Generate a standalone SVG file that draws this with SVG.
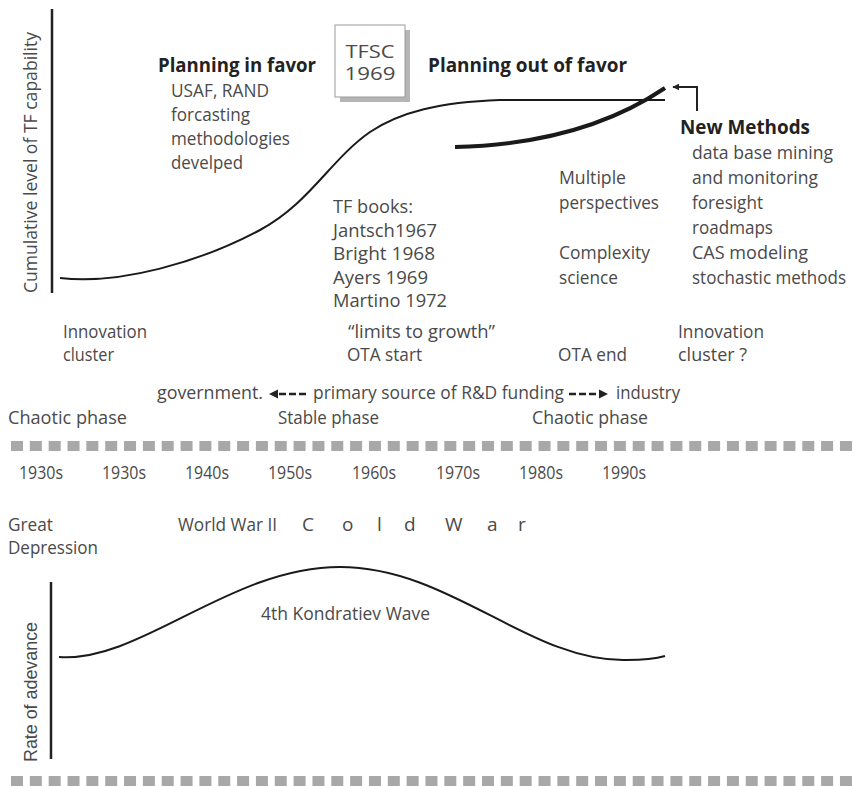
<svg xmlns="http://www.w3.org/2000/svg" width="855" height="786" viewBox="0 0 855 786">
<style>
.t{font-family:"Open Sans","Liberation Sans",sans-serif;font-size:19px;fill:#4a4a4a}
.b{font-family:"Open Sans","Liberation Sans",sans-serif;font-size:19.5px;font-weight:700;fill:#222}
.ax{stroke:#222;stroke-width:2.5;fill:none}
.crv{stroke:#1a1a1a;stroke-width:2;fill:none}
.bar{stroke:#a8a8a8;stroke-width:10;stroke-dasharray:12 6.84;fill:none}
.dash{stroke:#222;stroke-width:2.6;stroke-dasharray:7 3;fill:none}
</style>
<defs>
<marker id="ah" viewBox="0 0 10 10" refX="9" refY="5" markerWidth="7" markerHeight="7" markerUnits="userSpaceOnUse" orient="auto">
<path d="M0,0 L10,5 L0,10 z" fill="#222"/>
</marker>
</defs>
<rect width="855" height="786" fill="#fff"/>

<!-- bars -->
<line class="bar" x1="11" y1="446" x2="855" y2="446"/>
<line class="bar" x1="11" y1="781" x2="855" y2="781"/>

<!-- top chart axis and label -->
<g id="axis-top">
<line class="ax" x1="52" y1="9" x2="52" y2="293"/>
<text class="t" font-size="17.5" text-anchor="middle" transform="translate(37,162.5) rotate(-90)" textLength="261" lengthAdjust="spacingAndGlyphs">Cumulative level of TF capability</text>
</g>

<g id="connectors">
<path class="crv" d="M60,278 C120,285 200,262 260,230 C310,203 330,160 370,132 C400,112 440,102 500,100 L665,100"/>
<path d="M455,147 C540,145 610,125 665,88" stroke="#1a1a1a" stroke-width="4" fill="none"/>
<path d="M697,111 V87 H673" stroke="#222" stroke-width="2" fill="none" marker-end="url(#ah)"/>
<line class="dash" x1="279" y1="394" x2="307" y2="394"/>
<polygon points="269,394 278,389.5 278,398.5" fill="#222"/>
<line class="dash" x1="569" y1="394" x2="597" y2="394"/>
<polygon points="608,394 599,389.5 599,398.5" fill="#222"/>
<path class="crv" stroke-width="2.5" d="M59,657 C140,663 230,567 340,567 C450,567 530,662 626,660 C645,660 655,659 665,656"/>
</g>

<g id="tfsc">
<rect x="340" y="30" width="70" height="72" fill="#b5b5b5"/>
<rect x="335" y="25" width="70" height="72" fill="#fff" stroke="#9a9a9a" stroke-width="1"/>
<text class="t" font-size="21" x="370" y="58" text-anchor="middle" textLength="49" lengthAdjust="spacingAndGlyphs">TFSC</text>
<text class="t" font-size="21" x="370" y="80" text-anchor="middle" textLength="51" lengthAdjust="spacingAndGlyphs">1969</text>
</g>

<g id="planning-in-favor">
<text class="b" x="158" y="72" textLength="158" lengthAdjust="spacingAndGlyphs">Planning in favor</text>
<text class="t" x="171" y="97" textLength="98" lengthAdjust="spacingAndGlyphs">USAF, RAND</text>
<text class="t" x="171" y="121" textLength="79" lengthAdjust="spacingAndGlyphs">forcasting</text>
<text class="t" x="171" y="145" textLength="119" lengthAdjust="spacingAndGlyphs">methodologies</text>
<text class="t" x="171" y="169" textLength="72" lengthAdjust="spacingAndGlyphs">develped</text>
</g>

<g id="planning-out-of-favor">
<text class="b" x="428" y="72" textLength="199" lengthAdjust="spacingAndGlyphs">Planning out of favor</text>
</g>

<g id="tf-books">
<text class="t" x="333" y="213" textLength="80" lengthAdjust="spacingAndGlyphs">TF books:</text>
<text class="t" x="333" y="237" textLength="104" lengthAdjust="spacingAndGlyphs">Jantsch1967</text>
<text class="t" x="333" y="260" textLength="102" lengthAdjust="spacingAndGlyphs">Bright 1968</text>
<text class="t" x="333" y="284" textLength="95" lengthAdjust="spacingAndGlyphs">Ayers 1969</text>
<text class="t" x="333" y="307" textLength="114" lengthAdjust="spacingAndGlyphs">Martino 1972</text>
<text class="t" x="348" y="338" textLength="147" lengthAdjust="spacingAndGlyphs">“limits to growth”</text>
<text class="t" x="347" y="361" textLength="75" lengthAdjust="spacingAndGlyphs">OTA start</text>
</g>

<g id="multiple">
<text class="t" x="559" y="184" textLength="67" lengthAdjust="spacingAndGlyphs">Multiple</text>
<text class="t" x="559" y="209" textLength="100" lengthAdjust="spacingAndGlyphs">perspectives</text>
<text class="t" x="559" y="259" textLength="91" lengthAdjust="spacingAndGlyphs">Complexity</text>
<text class="t" x="559" y="284" textLength="59" lengthAdjust="spacingAndGlyphs">science</text>
<text class="t" x="558" y="361" textLength="69" lengthAdjust="spacingAndGlyphs">OTA end</text>
</g>

<g id="new-methods">
<text class="b" x="680" y="134" textLength="130" lengthAdjust="spacingAndGlyphs">New Methods</text>
<text class="t" x="692" y="159" textLength="141" lengthAdjust="spacingAndGlyphs">data base mining</text>
<text class="t" x="692" y="184" textLength="126" lengthAdjust="spacingAndGlyphs">and monitoring</text>
<text class="t" x="692" y="209" textLength="71" lengthAdjust="spacingAndGlyphs">foresight</text>
<text class="t" x="692" y="234" textLength="81" lengthAdjust="spacingAndGlyphs">roadmaps</text>
<text class="t" x="692" y="259" textLength="116" lengthAdjust="spacingAndGlyphs">CAS modeling</text>
<text class="t" x="692" y="284" textLength="154" lengthAdjust="spacingAndGlyphs">stochastic methods</text>
</g>

<g id="innovation-left">
<text class="t" x="63" y="338" textLength="84" lengthAdjust="spacingAndGlyphs">Innovation</text>
<text class="t" x="63" y="361" textLength="51" lengthAdjust="spacingAndGlyphs">cluster</text>
</g>
<g id="innovation-right">
<text class="t" x="678" y="338" textLength="86" lengthAdjust="spacingAndGlyphs">Innovation</text>
<text class="t" x="678" y="361" textLength="69" lengthAdjust="spacingAndGlyphs">cluster ?</text>
</g>

<g id="funding">
<text class="t" x="157" y="399" textLength="106" lengthAdjust="spacingAndGlyphs">government.</text>
<text class="t" x="313" y="399" textLength="251" lengthAdjust="spacingAndGlyphs">primary source of R&amp;D funding</text>
<text class="t" x="616" y="399" textLength="64" lengthAdjust="spacingAndGlyphs">industry</text>
</g>

<g id="phases">
<text class="t" x="8" y="424" textLength="119" lengthAdjust="spacingAndGlyphs">Chaotic phase</text>
<text class="t" x="278" y="424" textLength="101" lengthAdjust="spacingAndGlyphs">Stable phase</text>
<text class="t" x="532" y="424" textLength="116" lengthAdjust="spacingAndGlyphs">Chaotic phase</text>
</g>

<g id="years">
<text class="t" x="19" y="479" textLength="44" lengthAdjust="spacingAndGlyphs">1930s</text>
<text class="t" x="102" y="479" textLength="44" lengthAdjust="spacingAndGlyphs">1930s</text>
<text class="t" x="185" y="479" textLength="44" lengthAdjust="spacingAndGlyphs">1940s</text>
<text class="t" x="268" y="479" textLength="44" lengthAdjust="spacingAndGlyphs">1950s</text>
<text class="t" x="352" y="479" textLength="44" lengthAdjust="spacingAndGlyphs">1960s</text>
<text class="t" x="436" y="479" textLength="44" lengthAdjust="spacingAndGlyphs">1970s</text>
<text class="t" x="519" y="479" textLength="44" lengthAdjust="spacingAndGlyphs">1980s</text>
<text class="t" x="602" y="479" textLength="44" lengthAdjust="spacingAndGlyphs">1990s</text>
</g>

<g id="events">
<text class="t" x="8" y="531" textLength="45" lengthAdjust="spacingAndGlyphs">Great</text>
<text class="t" x="8" y="554" textLength="90" lengthAdjust="spacingAndGlyphs">Depression</text>
<text class="t" x="178" y="531" textLength="99" lengthAdjust="spacingAndGlyphs">World War II</text>
<text class="t" x="302 322 342 358 377 390 404 425 445 475 487 505 518" y="531">C o l d W a r</text>
</g>

<g id="axis-bottom">
<line class="ax" x1="51" y1="582" x2="51" y2="759" stroke-width="2"/>
<text font-family="'Liberation Sans',Arial,sans-serif" font-size="17.5" fill="#4a4a4a" text-anchor="middle" transform="translate(37,692) rotate(-90)" textLength="140" lengthAdjust="spacingAndGlyphs">Rate of adevance</text>
</g>

<g id="kondratiev">
<text class="t" x="261" y="620" textLength="169" lengthAdjust="spacingAndGlyphs">4th Kondratiev Wave</text>
</g>
</svg>
